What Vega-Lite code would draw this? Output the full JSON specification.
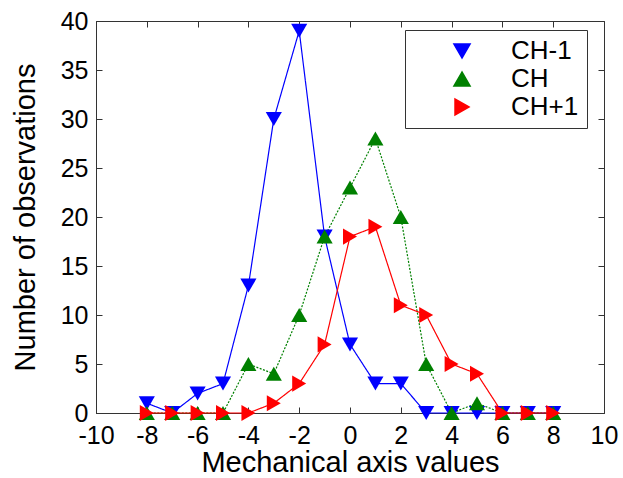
{
  "$schema": "https://vega.github.io/schema/vega-lite/v6.json",
  "width": 508,
  "height": 392,
  "autosize": {"type": "none"},
  "padding": {"left": 96, "top": 21, "right": 19, "bottom": 65},
  "background": "white",
  "config": {
    "font": "Liberation Sans",
    "view": {"stroke": "#333333", "strokeWidth": 1},
    "axis": {
      "grid": false,
      "domainColor": "#333333",
      "tickColor": "#333333",
      "tickSize": -6,
      "labelColor": "black",
      "labelFontSize": 25,
      "labelFlush": false,
      "titleColor": "black",
      "titleFontSize": 29,
      "titleFontWeight": "normal",
      "labelExpr": "'' + datum.value"
    },
    "legend": {
      "orient": "none", "legendX": 309, "legendY": 9,
      "strokeColor": "#333333", "fillColor": "white", "padding": 8,
      "labelFontSize": 26, "labelColor": "black", "symbolSize": 260,
      "symbolOffset": 36, "labelOffset": 36, "rowPadding": 2
    }
  },
  "data": {
    "values": [
      {"x": -8, "n": 1, "series": "CH-1"}, {"x": -7, "n": 0, "series": "CH-1"}, {"x": -6, "n": 2, "series": "CH-1"}, {"x": -5, "n": 3, "series": "CH-1"}, {"x": -4, "n": 13, "series": "CH-1"}, {"x": -3, "n": 30, "series": "CH-1"}, {"x": -2, "n": 39, "series": "CH-1"}, {"x": -1, "n": 18, "series": "CH-1"}, {"x": 0, "n": 7, "series": "CH-1"}, {"x": 1, "n": 3, "series": "CH-1"}, {"x": 2, "n": 3, "series": "CH-1"}, {"x": 3, "n": 0, "series": "CH-1"}, {"x": 4, "n": 0, "series": "CH-1"}, {"x": 5, "n": 0, "series": "CH-1"}, {"x": 6, "n": 0, "series": "CH-1"}, {"x": 7, "n": 0, "series": "CH-1"}, {"x": 8, "n": 0, "series": "CH-1"},
      {"x": -8, "n": 0, "series": "CH"}, {"x": -7, "n": 0, "series": "CH"}, {"x": -6, "n": 0, "series": "CH"}, {"x": -5, "n": 0, "series": "CH"}, {"x": -4, "n": 5, "series": "CH"}, {"x": -3, "n": 4, "series": "CH"}, {"x": -2, "n": 10, "series": "CH"}, {"x": -1, "n": 18, "series": "CH"}, {"x": 0, "n": 23, "series": "CH"}, {"x": 1, "n": 28, "series": "CH"}, {"x": 2, "n": 20, "series": "CH"}, {"x": 3, "n": 5, "series": "CH"}, {"x": 4, "n": 0, "series": "CH"}, {"x": 5, "n": 1, "series": "CH"}, {"x": 6, "n": 0, "series": "CH"}, {"x": 7, "n": 0, "series": "CH"}, {"x": 8, "n": 0, "series": "CH"},
      {"x": -8, "n": 0, "series": "CH+1"}, {"x": -7, "n": 0, "series": "CH+1"}, {"x": -6, "n": 0, "series": "CH+1"}, {"x": -5, "n": 0, "series": "CH+1"}, {"x": -4, "n": 0, "series": "CH+1"}, {"x": -3, "n": 1, "series": "CH+1"}, {"x": -2, "n": 3, "series": "CH+1"}, {"x": -1, "n": 7, "series": "CH+1"}, {"x": 0, "n": 18, "series": "CH+1"}, {"x": 1, "n": 19, "series": "CH+1"}, {"x": 2, "n": 11, "series": "CH+1"}, {"x": 3, "n": 10, "series": "CH+1"}, {"x": 4, "n": 5, "series": "CH+1"}, {"x": 5, "n": 4, "series": "CH+1"}, {"x": 6, "n": 0, "series": "CH+1"}, {"x": 7, "n": 0, "series": "CH+1"}, {"x": 8, "n": 0, "series": "CH+1"}
    ]
  },
  "layer": [
    {
      "mark": {"type": "line", "strokeWidth": 1.2},
      "encoding": {
        "x": {"field": "x", "type": "quantitative", "scale": {"domain": [-10, 10], "nice": false, "zero": false},
              "axis": {"orient": "bottom", "values": [-10, -8, -6, -4, -2, 0, 2, 4, 6, 8, 10], "labelPadding": 16, "title": "Mechanical axis values", "titlePadding": 0}},
        "y": {"field": "n", "type": "quantitative", "scale": {"domain": [0, 40], "nice": false},
              "axis": {"orient": "left", "values": [0, 5, 10, 15, 20, 25, 30, 35, 40], "labelPadding": 14, "title": "Number of observations", "titlePadding": 20}},
        "color": {"field": "series", "type": "nominal", "title": "", "scale": {"domain": ["CH-1", "CH", "CH+1"], "range": ["#0000ff", "#008000", "#ff0000"]}},
        "strokeDash": {"condition": {"test": "datum.series === 'CH'", "value": [2, 1.5]}, "value": [1, 0]}
      }
    },
    {
      "mark": {"type": "point", "filled": true, "opacity": 1, "size": 260},
      "encoding": {
        "x": {"field": "x", "type": "quantitative", "scale": {"domain": [-10, 10], "nice": false, "zero": false},
              "axis": {"orient": "top", "values": [-10, -8, -6, -4, -2, 0, 2, 4, 6, 8, 10], "labels": false, "title": null, "domain": false}},
        "y": {"field": "n", "type": "quantitative", "scale": {"domain": [0, 40], "nice": false},
              "axis": {"orient": "right", "values": [0, 5, 10, 15, 20, 25, 30, 35, 40], "labels": false, "title": null, "domain": false}},
        "color": {"field": "series", "type": "nominal", "title": "", "scale": {"domain": ["CH-1", "CH", "CH+1"], "range": ["#0000ff", "#008000", "#ff0000"]}},
        "shape": {"field": "series", "type": "nominal", "title": "", "scale": {"domain": ["CH-1", "CH", "CH+1"], "range": ["triangle-down", "triangle-up", "triangle-right"]}}
      }
    }
  ],
  "resolve": {"axis": {"x": "independent", "y": "independent"}}
}
